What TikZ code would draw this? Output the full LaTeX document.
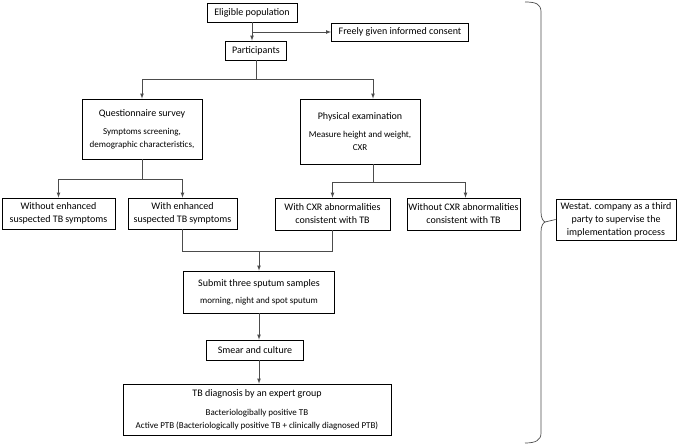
\documentclass[tikz,border=0pt]{standalone}
\usepackage{fontspec}
\setmainfont{Carlito}
\usetikzlibrary{arrows}
\newcommand{\subline}{\fontsize{9}{12.5}\selectfont}
\begin{document}
\begin{tikzpicture}[x=1pt, y=-1pt,
  box/.style={draw, line width=0.8pt, align=center, inner sep=1pt,
    font=\fontsize{10}{13}\selectfont},
  link/.style={draw, black!70, line width=0.7pt}]
  \useasboundingbox (0,0) rectangle (685,445);
  % enrolment
  \draw (252, 12.5) node[box, minimum width=90pt, minimum height=19pt] (elig) {Eligible population};
  \draw (400, 32) node[box, minimum width=137pt, minimum height=18pt] (consent) {Freely given informed consent};
  \draw (256, 50.5) node[box, minimum width=61pt, minimum height=19pt] (part) {Participants};
  \path [link, -latex] (elig.south) -- (elig.south |- part.north);
  \path [link, -latex] (elig.south |- consent.west) -- (consent.west);
  % screening
  \draw (142, 129) node[box, minimum width=120pt, minimum height=60pt] (quest)
    {Questionnaire survey\\[5pt] \subline Symptoms screening,\\ \subline demographic characteristics,};
  \draw (360, 131.5) node[box, minimum width=120pt, minimum height=65pt] (phys)
    {Physical examination\\[5pt] \subline Measure height and weight,\\ \subline CXR};
  \path (part.south) ++(0,19) coordinate (fork1);
  \path [link] (part.south) -- (fork1);
  \path [link, -latex] (fork1) -| (quest.north);
  \path [link, -latex] (fork1) -| ([xshift=13pt]phys.north);
  % results
  \draw (58.5, 213.5) node[box, minimum width=113pt, minimum height=31pt] (woenh)
    {Without enhanced\\suspected TB symptoms};
  \draw (182.5, 213.5) node[box, minimum width=109pt, minimum height=31pt] (wenh)
    {With enhanced\\suspected TB symptoms};
  \draw (332.5, 214) node[box, minimum width=115pt, minimum height=32pt] (wcxr)
    {With CXR abnormalities\\consistent with TB};
  \draw (463.5, 214) node[box, minimum width=113pt, minimum height=32pt] (wocxr)
    {Without CXR abnormalities\\consistent with TB};
  \path (quest.south) ++(0,20) coordinate (fork2);
  \path [link] (quest.south) -- (fork2);
  \path [link, -latex] (fork2) -| (woenh.north);
  \path [link, -latex] (fork2) -| (wenh.north);
  \path ([xshift=13pt]phys.south) ++(0,18) coordinate (fork3);
  \path [link] ([xshift=13pt]phys.south) -- (fork3);
  \path [link, -latex] (fork3) -| (wcxr.north);
  \path [link, -latex] (fork3) -| ([xshift=2pt]wocxr.north);
  % sputum and diagnosis
  \draw (259, 292) node[box, minimum width=151pt, minimum height=42pt] (submit)
    {Submit three sputum samples\\[4pt] \subline morning, night and spot sputum};
  \draw (255, 350) node[box, minimum width=97pt, minimum height=20pt] (smear) {Smear and culture};
  \draw (257, 409.5) node[box, minimum width=268pt, minimum height=51pt] (diag)
    {TB diagnosis by an expert group\\[6pt] \subline Bacteriologibally positive TB\\
     \subline Active PTB (Bacteriologically positive TB + clinically diagnosed PTB)};
  \path (wenh.south) ++(0,22) coordinate (join);
  \path [link] (wenh.south) -- (join) -| (wcxr.south);
  \path [link, -latex] (join -| submit.north) -- (submit.north);
  \path [link, -latex] (submit.south) -- (submit.south |- smear.north);
  \path [link, -latex] (submit.south |- smear.south) -- (submit.south |- diag.north);
  % supervision
  \draw (616, 219.5) node[box, minimum width=120pt, minimum height=41pt] (westat)
    {Westat. company as a third\\party to supervise the\\implementation process};
  \coordinate (cusp) at (545, 222);
  \draw [link] (525, 2) .. controls (536, 2) and (541, 4) .. (541, 12) -- (541, 212)
    .. controls (541, 218) and (543, 221) .. (cusp)
    .. controls (543, 223) and (541, 226) .. (541, 232) -- (541, 433)
    .. controls (541, 440) and (536, 443) .. (525, 443);
  \path [link] (cusp) -- (westat.west);
\end{tikzpicture}
\end{document}
